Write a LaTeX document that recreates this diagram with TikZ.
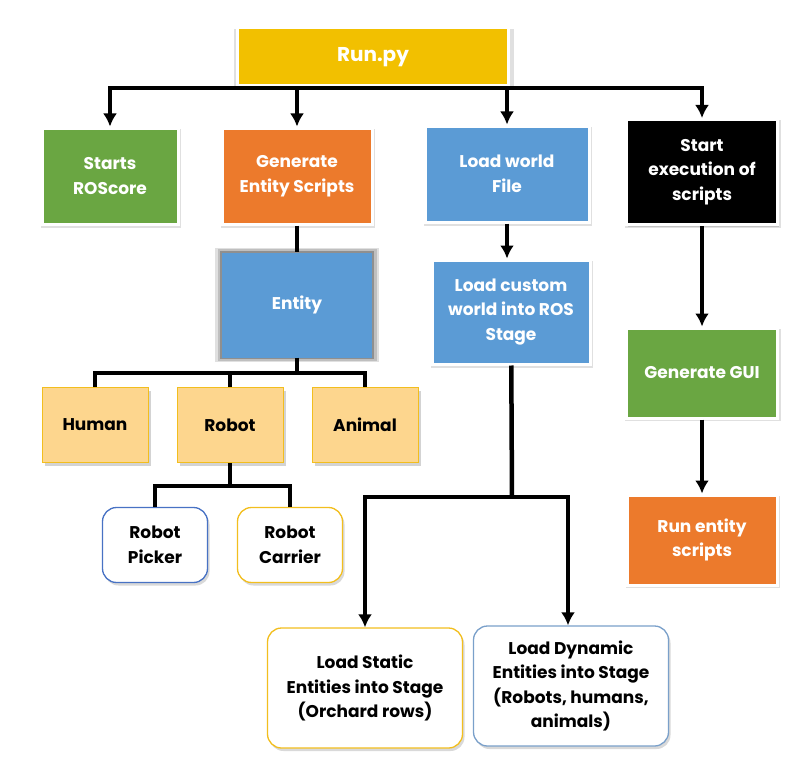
\documentclass[tikz,border=0pt]{standalone}
\usepackage{fontspec}
\setmainfont{Poppins}
\usepackage{tikz}
\usetikzlibrary{shapes, arrows.meta, shadows}

\definecolor{runyellow}{RGB}{242,192,0}
\definecolor{boxgreen}{RGB}{106,166,66}
\definecolor{boxorange}{RGB}{236,122,44}
\definecolor{boxblue}{RGB}{91,155,213}
\definecolor{leaffill}{RGB}{253,214,142}
\definecolor{leafgold}{RGB}{242,190,30}
\definecolor{pickerblue}{RGB}{72,114,196}
\definecolor{dynblue}{RGB}{122,160,202}

\begin{document}
\begin{tikzpicture}[x=1pt, y=-1pt, >={Latex[length=13pt,width=14pt]}, font=\fontsize{17}{24.5}\selectfont\bfseries]
\tikzstyle{block} = [rectangle, draw=white, line width=3pt, text=white, align=center, general shadow={shadow scale=1.03, shadow xshift=1pt, shadow yshift=-2pt, fill=black, opacity=0.12}, drop shadow={shadow xshift=1pt, shadow yshift=-2pt, opacity=0.3}]
\tikzstyle{leaf} = [rectangle, fill=leaffill, draw=leafgold, line width=1pt, align=center, minimum width=106pt, minimum height=75pt, drop shadow={shadow xshift=3pt, shadow yshift=-3pt, opacity=0.35}]
\tikzstyle{roundbox} = [rectangle, rounded corners=14pt, fill=white, line width=1.3pt, align=center, drop shadow={shadow xshift=2pt, shadow yshift=-3pt, opacity=0.3}]
\tikzstyle{glow} = [general shadow={shadow scale=1.09, fill=black, opacity=0.12}, general shadow={shadow scale=1.06, fill=black, opacity=0.15}, general shadow={shadow scale=1.03, fill=black, opacity=0.25}]
\tikzstyle{bus} = [line width=4.5pt]
\tikzstyle{junction} = [coordinate]

\useasboundingbox (0,0) rectangle (812,768);

% We start by placing the blocks
\node [block, fill=runyellow, minimum width=271pt, minimum height=58pt, font=\fontsize{20}{24}\selectfont\bfseries] (run) at (373,57) {Run.py};
\node [block, fill=boxgreen, minimum width=136pt, minimum height=96pt] (roscore) at (110,176) {Starts\\ROScore};
\node [block, fill=boxorange, minimum width=150pt, minimum height=96pt] (genscripts) at (297,176) {Generate\\Entity Scripts};
\node [block, fill=boxblue, minimum width=164pt, minimum height=96pt] (loadworld) at (507,174) {Load world\\File};
\node [block, fill=black, minimum width=151pt, minimum height=105pt] (startexec) at (702,172) {Start\\execution of\\scripts};

\node [rectangle, glow, fill=boxblue, text=white, minimum width=150pt, minimum height=105pt] (entity) at (297,305) {Entity};
\node [leaf] (human) at (95,425) {Human};
\node [leaf] (robot) at (230,425) {Robot};
\node [leaf] (animal) at (365,425) {Animal};
\node [roundbox, draw=pickerblue, minimum width=105pt, minimum height=75pt] (picker) at (155,545) {Robot\\Picker};
\node [roundbox, draw=leafgold, minimum width=105pt, minimum height=75pt] (carrier) at (290,545) {Robot\\Carrier};

\node [block, fill=boxblue, minimum width=158pt, minimum height=104pt] (loadcustom) at (511,312) {Load custom\\world into ROS\\Stage};
\node [roundbox, draw=leafgold, minimum width=195pt, minimum height=120pt] (staticent) at (365,688) {Load Static\\Entities into Stage\\(Orchard rows)};
\node [roundbox, draw=dynblue, minimum width=195pt, minimum height=120pt] (dynament) at (571,686) {Load Dynamic\\Entities into Stage\\(Robots, humans,\\animals)};

\node [block, fill=boxgreen, minimum width=151pt, minimum height=90pt] (gui) at (702,373) {Generate GUI};
\node [block, fill=boxorange, minimum width=150pt, minimum height=90pt] (runscripts) at (702,540) {Run entity\\scripts};

% junctions of the bus lines
\node [junction] (runbus) at (373,88) {};
\node [junction] (entbus) at (297,373) {};
\node [junction] (robbus) at (230,486) {};
\node [junction] (custbus) at (512,497) {};

% Once the nodes are placed, connecting them is easy.
\draw [bus] (run) -- (runbus);
\foreach \child in {roscore, genscripts, loadworld, startexec}
  \draw [bus, ->] (runbus) -| (\child.north);

\draw [bus] (genscripts) -- (entity);
\draw [bus] (entity) -- (entbus);
\foreach \child in {human, robot, animal}
  \draw [bus] (entbus) -| (\child.north);

\draw [bus] (robot) -- (robbus);
\draw [bus] (robbus) -| (picker.north);
\draw [bus] (robbus) -| (carrier.north);

\draw [bus, ->] (loadworld) -- (loadcustom.north -| loadworld);
\draw [bus] (loadcustom) -- (custbus);
\draw [bus, ->] (custbus) -| (staticent.north);
\draw [bus, ->] (custbus) -| ([xshift=-3pt]dynament.north);

\draw [bus, ->] (startexec) -- (gui);
\draw [bus, ->] (gui) -- (runscripts);

\end{tikzpicture}
\end{document}
